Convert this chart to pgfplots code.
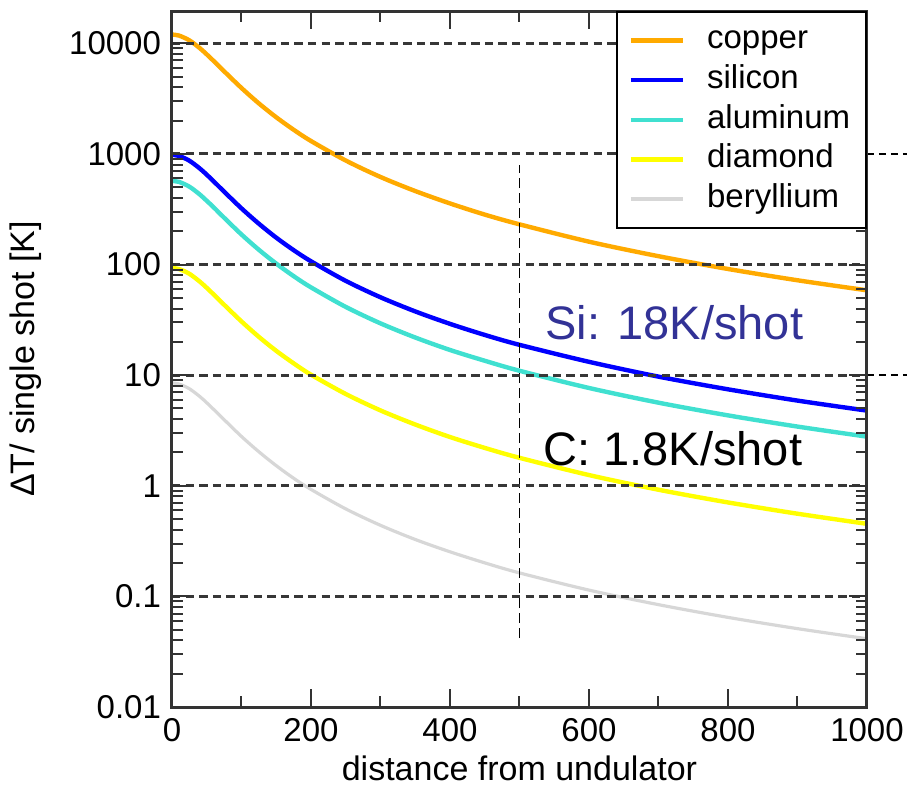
\documentclass[border=0pt]{standalone}
\usepackage{fontspec}
\setmainfont{Liberation Sans}
\usepackage{pgfplots}
\usepackage{pgfplotstable}
\pgfplotsset{compat=1.18}
\definecolor{cuC}{RGB}{255,170,0}
\definecolor{siC}{RGB}{0,0,255}
\definecolor{alC}{RGB}{64,224,208}
\definecolor{diC}{RGB}{255,255,0}
\definecolor{beC}{RGB}{215,215,215}
\definecolor{anno}{RGB}{50,50,150}
\definecolor{gridC}{RGB}{55,55,55}

\pgfplotstableread{
x    cu     si    al     di     be
0    12000  980   570    93     8.5
10   11760  960   559    91.1   8.33
25   10643  869   506    82.5   7.54
40   9046   739   430    70.1   6.41
50   7946   649   377    61.6   5.63
60   6918   565   329    53.6   4.90
75   5586   456   265    43.3   3.96
100  3946   322   187    30.6   2.79
125  2864   234   136    22.2   2.03
150  2146   175   102    16.6   1.52
175  1655   135   78.6   12.8   1.17
200  1309   107   62.2   10.1   0.927
250  872    71.2  41.4   6.76   0.618
300  619    50.6  29.4   4.80   0.439
350  462    37.7  21.9   3.58   0.327
400  357    29.1  16.9   2.76   0.253
450  283    23.1  13.5   2.20   0.201
500  231    18.8  10.96  1.79   0.163
600  161    13.2  7.66   1.25   0.114
700  119    9.70  5.64   0.921  0.0842
800  91.2   7.45  4.33   0.707  0.0646
900  72.1   5.89  3.43   0.559  0.0511
1000 58.5   4.78  2.78   0.453  0.0414
}\datatable

\begin{document}
\begin{tikzpicture}
\useasboundingbox (-86pt,-41pt) rectangle (367.5pt,353.5pt);
\begin{axis}[
  at={(0,0)}, anchor=south west,
  scale only axis, width=347.5pt, height=348pt,
  ymode=log, xmin=0, xmax=1000, ymin=0.01, ymax=19600,
  clip=false, axis on top,
  xtick={0,200,400,600,800,1000},
  xticklabels={0,200,400,600,800,1000},
  minor xtick={100,300,500,700,900},
  ytick={0.01,0.1,1,10,100,1000,10000},
  yticklabels={0.01,0.1,1,10,100,1000,10000},
  minor ytick={0.02,0.03,0.04,0.05,0.06,0.07,0.08,0.09,
               0.2,0.3,0.4,0.5,0.6,0.7,0.8,0.9,
               2,3,4,5,6,7,8,9,
               20,30,40,50,60,70,80,90,
               200,300,400,500,600,700,800,900,
               2000,3000,4000,5000,6000,7000,8000,9000},
  tick align=inside, xtick pos=both, ytick pos=both,
  major tick length=9pt, minor tick length=5.5pt,
  every tick/.style={black!80, line width=1pt},
  axis line style={black!80, line width=1.5pt},
  ymajorgrids,
  grid style={gridC, line width=1.5pt, dash pattern=on 4.2pt off 2.6pt},
  /pgf/number format/assume math mode=true,
  tick label style={font=\fontsize{16.5}{18}\selectfont},
  xticklabel style={yshift=-2pt},
  yticklabel style={xshift=-2pt},
  label style={font=\fontsize{17}{20}\selectfont},
  xlabel={distance from undulator},
  ylabel={ΔT/ single shot [K]},
  xlabel style={at={(axis description cs:0.5,0)}, anchor=north, yshift=-21pt},
  ylabel style={at={(axis description cs:-0.177,0.5)}, anchor=south},
  legend style={at={(1,1)}, anchor=north east, draw=black, line width=0.8pt,
    fill=white, font=\fontsize{16.5}{18}\selectfont,
    inner xsep=6pt, inner ysep=4.5pt,
    nodes={text height=12pt, text depth=3.8pt, inner sep=2pt},
    cells={anchor=west},
    /tikz/every odd column/.append style={column sep=9pt}},
  legend image code/.code={\draw[#1] (0pt,0pt) -- (26pt,0pt);},
]
\addplot[cuC, line width=2.2pt, smooth] table[x=x, y=cu] {\datatable};
\addlegendentry{copper}
\addplot[siC, line width=2.2pt, smooth] table[x=x, y=si] {\datatable};
\addlegendentry{silicon}
\addplot[alC, line width=2.2pt, smooth] table[x=x, y=al] {\datatable};
\addlegendentry{aluminum}
\addplot[diC, line width=2.2pt, smooth] table[x=x, y=di] {\datatable};
\addlegendentry{diamond}
\addplot[beC, line width=1.6pt, smooth] table[x=x, y=be] {\datatable};
\addlegendentry{beryllium}

\addplot[black, line width=0.75pt, dash pattern=on 5pt off 2.5pt, forget plot]
  coordinates {(500,0.042) (500,800)};
\addplot[black, line width=0.7pt, dash pattern=on 3.5pt off 2.5pt, forget plot]
  coordinates {(1000,1000) (1057.5,1000)};
\addplot[black, line width=0.7pt, dash pattern=on 3.5pt off 2.5pt, forget plot]
  coordinates {(1000,10) (1057.5,10)};

\node[anchor=base west, inner sep=0pt, text=anno, font=\fontsize{23.5}{26}\selectfont]
  at (axis cs:536.7,21.2) {Si: 18K/shot};
\node[anchor=base west, inner sep=0pt, text=black, font=\fontsize{23.5}{26}\selectfont]
  at (axis cs:534,1.54) {C: 1.8K/shot};
\end{axis}
\end{tikzpicture}
\end{document}
